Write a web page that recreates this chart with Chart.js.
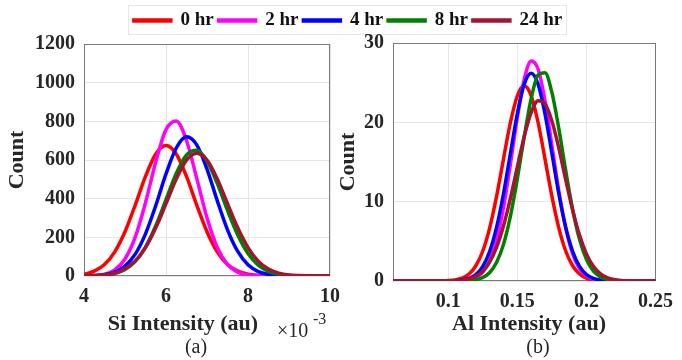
<!DOCTYPE html>
<html>
<head>
<meta charset="utf-8">
<script src="https://cdn.jsdelivr.net/npm/chart.js@4.4.1/dist/chart.umd.min.js"></script>
<style>
  html, body { margin: 0; padding: 0; background: #fff; }
  #wrap { position: relative; width: 682px; height: 360px; }
  #chartA { position: absolute; left: 0; top: 0; }
  #chartB { position: absolute; left: 331px; top: 0; }
</style>
</head>
<body>
<div id="wrap">
  <canvas id="chartA" width="682" height="360"></canvas>
  <canvas id="chartB" width="351" height="360"></canvas>
</div>
<script>
var seriesNames = ['0 hr', '2 hr', '4 hr', '8 hr', '24 hr'];
var seriesColors = ['#ff0000', '#ff00ff', '#0000ff', '#008000', '#a2142f'];

// panel (a): Si intensity, x in units of 1e-3
var siX = [4, 4.25, 4.5, 4.75, 5, 5.25, 5.5, 5.75, 6, 6.25, 6.5, 6.75, 7, 7.25, 7.5, 7.75, 8, 8.25, 8.5, 8.75, 9, 9.25, 9.5, 9.75, 10];
var si0hr = [9, 25, 59, 125, 229, 367, 515, 631, 675, 631, 515, 367, 229, 125, 59, 25, 9, 3, 1, 0, 0, 0, 0, 0, 0];
var si2hr = [0, 2, 9, 32, 88, 201, 379, 590, 757, 802, 701, 505, 301, 148, 60, 20, 5, 1, 0, 0, 0, 0, 0, 0, 0];
var si4hr = [0, 2, 7, 20, 51, 113, 218, 364, 528, 662, 720, 678, 553, 390, 239, 127, 58, 23, 8, 2, 0, 0, 0, 0, 0];
var si8hr = [0, 1, 5, 13, 34, 76, 150, 260, 395, 530, 626, 650, 595, 479, 339, 212, 116, 56, 24, 9, 3, 1, 0, 0, 0];
var si24hr = [1, 2, 5, 15, 36, 77, 147, 249, 374, 502, 599, 635, 599, 502, 374, 249, 147, 77, 36, 15, 5, 2, 1, 0, 0];
var siTicksX = [4, 6, 8, 10];
var siTicksY = [0, 200, 400, 600, 800, 1000, 1200];

// panel (b): Al intensity
var alX = [0.06, 0.065, 0.07, 0.075, 0.08, 0.085, 0.09, 0.095, 0.1, 0.105, 0.11, 0.115, 0.12, 0.125, 0.13, 0.135, 0.14, 0.145, 0.15, 0.155,
           0.16, 0.165, 0.17, 0.175, 0.18, 0.185, 0.19, 0.195, 0.2, 0.205, 0.21, 0.215, 0.22, 0.225, 0.23, 0.235, 0.24, 0.245, 0.25];
var al0hr = [0, 0, 0, 0, 0, 0, 0, 0.01, 0.05, 0.14, 0.36, 0.88, 1.92, 3.78, 6.70, 10.69, 15.40, 19.98, 23.35, 24.6,
             23.35, 19.98, 15.40, 10.69, 6.70, 3.78, 1.92, 0.88, 0.36, 0.14, 0.05, 0.01, 0, 0, 0, 0, 0, 0, 0];
var al2hr = [0, 0, 0, 0, 0, 0, 0, 0, 0, 0.01, 0.04, 0.15, 0.43, 1.12, 2.57, 5.20, 9.31, 14.73, 20.60, 25.43,
             27.73, 26.72, 22.74, 17.10, 11.37, 6.67, 3.45, 1.58, 0.64, 0.23, 0.07, 0.02, 0, 0, 0, 0, 0, 0, 0];
var al4hr = [0, 0, 0, 0, 0, 0, 0, 0, 0.01, 0.04, 0.12, 0.33, 0.82, 1.85, 3.74, 6.78, 11.02, 16.10, 21.10, 24.82,
             26.2, 24.82, 21.10, 16.10, 11.02, 6.78, 3.74, 1.85, 0.82, 0.33, 0.12, 0.04, 0.01, 0, 0, 0, 0, 0, 0];
var al8hr = [0, 0, 0, 0, 0, 0, 0, 0, 0, 0, 0.02, 0.05, 0.16, 0.44, 1.07, 2.36, 4.64, 8.18, 12.90, 18.20,
             22.99, 25.98, 26.26, 23.77, 19.24, 13.94, 9.04, 5.25, 2.72, 1.26, 0.53, 0.20, 0.07, 0.02, 0, 0, 0, 0, 0];
var al24hr = [0, 0, 0, 0, 0, 0, 0, 0, 0.01, 0.04, 0.10, 0.26, 0.59, 1.24, 2.40, 4.26, 6.96, 10.44, 14.39, 18.23,
              21.23, 22.71, 22.33, 20.18, 16.76, 12.78, 8.97, 5.78, 3.42, 1.86, 0.93, 0.43, 0.18, 0.07, 0.03, 0.01, 0, 0, 0];
var alTicksX = [0.1, 0.15, 0.2, 0.25];
var alTicksY = [0, 10, 20, 30];

var serif = '"Liberation Serif", "Times New Roman", serif';

function makeDatasets(xs, ys) {
    return ys.map(function (vals, i) {
        return {
            label: seriesNames[i],
            data: vals.map(function (v, j) { return { x: xs[j], y: v }; }),
            borderColor: seriesColors[i],
            backgroundColor: seriesColors[i],
            borderWidth: 3.5,
            pointRadius: 0,
            cubicInterpolationMode: 'monotone',
            fill: false,
            order: ys.length - i
        };
    });
}

function fixedTicks(values) {
    return function (axis) {
        axis.ticks = values.map(function (v) { return { value: v }; });
    };
}

var frame = {
    id: 'frame',
    beforeDatasetsDraw: function (chart) {
        var a = chart.chartArea, ctx = chart.ctx;
        ctx.save();
        ctx.strokeStyle = '#7a7a7a';
        ctx.lineWidth = 1;
        ctx.strokeRect(Math.round(a.left) + 0.5, Math.round(a.top) + 0.5,
                       Math.round(a.right - a.left) - 1, Math.round(a.bottom - a.top) - 1);
        ctx.restore();
    }
};

var panelText = {
    id: 'panelText',
    afterDraw: function (chart, args, opts) {
        var ctx = chart.ctx;
        ctx.save();
        ctx.fillStyle = '#262626';
        ctx.textAlign = 'center';
        ctx.textBaseline = 'middle';
        ctx.font = 'bold 22px ' + serif;
        ctx.fillText(opts.xTitle, opts.xTitleX, 324);
        ctx.font = '20px ' + serif;
        ctx.fillText(opts.tag, opts.tagX, 348);
        if (opts.exponent) {
            ctx.textAlign = 'left';
            ctx.textBaseline = 'alphabetic';
            ctx.font = '20px ' + serif;
            ctx.fillText('\u00d710', 277, 337);
            ctx.font = '16px ' + serif;
            ctx.fillText(opts.exponent, 313, 324);
        }
        if (opts.legendFrame && chart.legend && chart.legend.legendHitBoxes) {
            var hb = chart.legend.legendHitBoxes;
            var first = hb[0], last = hb[hb.length - 1];
            ctx.strokeStyle = '#e8e8e8';
            ctx.lineWidth = 1;
            ctx.strokeRect(Math.round(first.left) - 5.5, Math.round(first.top) - 5.5,
                           Math.round(last.left + last.width - first.left) + 10, Math.round(first.height) + 10);
        }
        ctx.restore();
    }
};

function axisOptions(ticksX, ticksY, xmin, xmax, ymax, yWidth, xHeight, titlePad, rightGap, topGap) {
    var tickFont = { family: serif, size: 20, weight: 'bold' };
    var scales = {
        x: {
            type: 'linear',
            min: xmin,
            max: xmax,
            afterBuildTicks: fixedTicks(ticksX),
            afterFit: function (s) { s.height = xHeight; },
            grid: { color: '#e6e6e6', drawTicks: false },
            border: { display: false },
            ticks: {
                padding: 9,
                color: '#262626',
                font: tickFont,
                maxRotation: 0,
                callback: function (v) { return String(+v.toFixed(3)); }
            }
        },
        y: {
            min: 0,
            max: ymax,
            afterBuildTicks: fixedTicks(ticksY),
            afterFit: function (s) { s.width = yWidth; },
            grid: { color: '#e6e6e6', drawTicks: false },
            border: { display: false },
            ticks: {
                padding: 9,
                color: '#262626',
                font: tickFont,
                callback: function (v) { return String(v); }
            },
            title: {
                display: true,
                text: 'Count',
                color: '#262626',
                font: { family: serif, size: 22, weight: 'bold' },
                padding: { top: titlePad, bottom: 0 }
            }
        }
    };
    if (rightGap) {
        // empty right-hand axis that only reserves room for panel (b)
        scales.gap = {
            position: 'right',
            afterFit: function (s) { s.width = rightGap; },
            grid: { display: false },
            border: { display: false },
            ticks: { display: false }
        };
    }
    if (topGap) {
        // empty top axis: space between legend and plot box
        scales.topGap = {
            type: 'linear',
            position: 'top',
            afterFit: function (s) { s.height = topGap; },
            grid: { display: false },
            border: { display: false },
            ticks: { display: false }
        };
    }
    return scales;
}

new Chart(document.getElementById('chartA'), {
    type: 'line',
    data: { datasets: makeDatasets(siX, [si0hr, si2hr, si4hr, si8hr, si24hr]) },
    options: {
        responsive: false,
        animation: false,
        layout: { padding: { top: 6, right: 0, bottom: 0, left: 14 } },
        scales: axisOptions(siTicksX, siTicksY, 4, 10, 1200, 70, 84, -10, 352, 4),
        plugins: {
            legend: {
                position: 'top',
                labels: {
                    boxWidth: 37,
                    boxHeight: 1,
                    padding: 5,
                    color: '#111',
                    font: { family: serif, size: 19, weight: 'bold' },
                    sort: function (a, b) { return a.datasetIndex - b.datasetIndex; }
                }
            },
            tooltip: { enabled: false },
            panelText: { xTitle: 'Si Intensity (au)', xTitleX: 183, tag: '(a)', tagX: 196, exponent: '-3', legendFrame: true }
        }
    },
    plugins: [frame, panelText]
});

new Chart(document.getElementById('chartB'), {
    type: 'line',
    data: { datasets: makeDatasets(alX, [al0hr, al2hr, al4hr, al8hr, al24hr]) },
    options: {
        responsive: false,
        animation: false,
        layout: { padding: { top: 43, right: 17, bottom: 0, left: 0 } },
        scales: axisOptions(alTicksX, alTicksY, 0.06, 0.25, 30, 62, 79, 4, 0, 0),
        plugins: {
            legend: { display: false },
            tooltip: { enabled: false },
            panelText: { xTitle: 'Al Intensity (au)', xTitleX: 198, tag: '(b)', tagX: 207 }
        }
    },
    plugins: [frame, panelText]
});
</script>
</body>
</html>
